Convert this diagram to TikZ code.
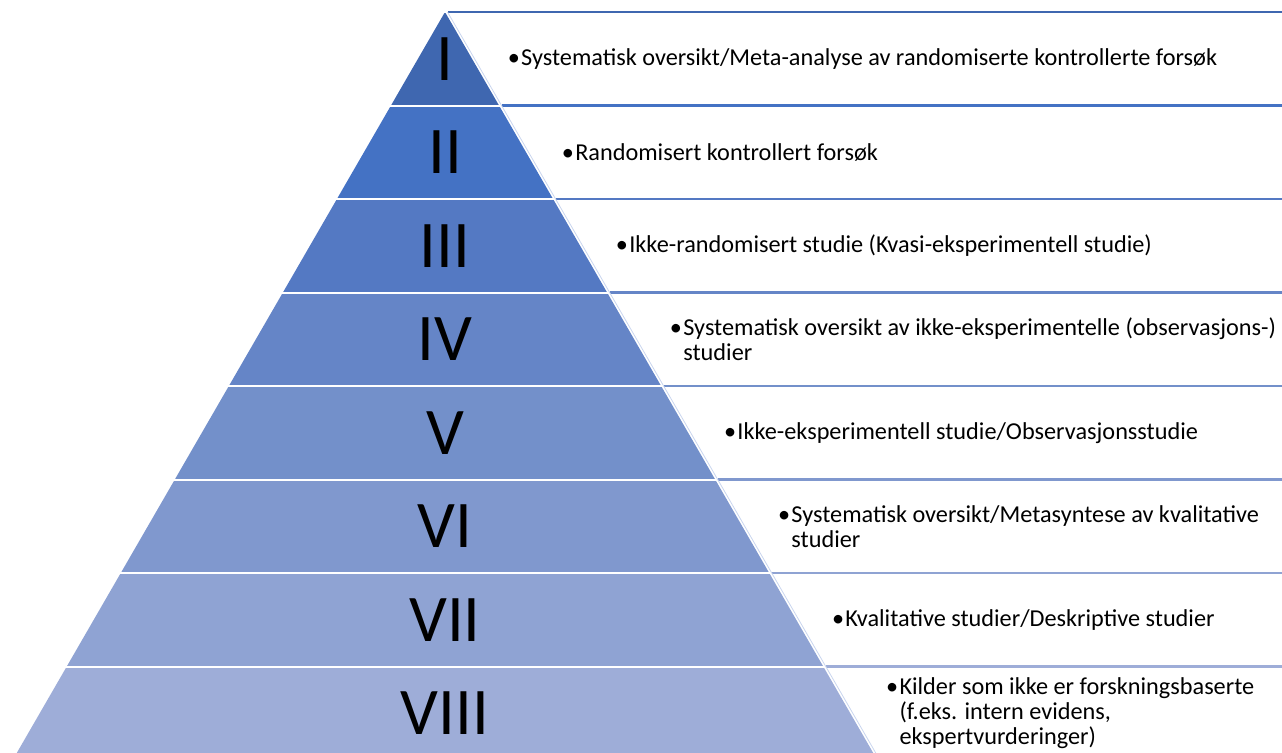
\documentclass[tikz,border=0pt]{standalone}
\usepackage{fontspec}
\setmainfont{Carlito}
\usetikzlibrary{positioning,calc}
\definecolor{lvlI}{HTML}{3F67B0}
\definecolor{lvlII}{HTML}{4472C4}
\definecolor{lvlIII}{HTML}{5479C3}
\definecolor{lvlIV}{HTML}{6585C7}
\definecolor{lvlV}{HTML}{7390CA}
\definecolor{lvlVI}{HTML}{8098CE}
\definecolor{lvlVII}{HTML}{8FA3D3}
\definecolor{lvlVIII}{HTML}{9EADD8}
\definecolor{edgeline}{HTML}{C9D5EE}
\begin{document}
\begin{tikzpicture}[x=0.75pt,y=-0.75pt,
  num/.style={inner sep=0pt,font=\fontsize{50}{50}\selectfont},
  desc/.style={anchor=west,inner sep=0pt,align=left,font=\fontsize{18.2}{18.8}\selectfont},
  rule/.style={line width=1.8pt}]
\useasboundingbox (0,0) rectangle (1282,753);
\clip (0,0) rectangle (1282,753);
\coordinate (apex) at (445,12);
\coordinate (bl) at (12.7,760);
\coordinate (br) at (877.3,760);
% layers, numerals and text boxes
\foreach \k/\n/\txt in {1/I/{Systematisk oversikt/Meta-analyse av randomiserte kontrollerte forsøk},
  2/II/{Randomisert kontrollert forsøk},
  3/III/{Ikke-randomisert studie (Kvasi-eksperimentell studie)},
  4/IV/{Systematisk oversikt av ikke-eksperimentelle (observasjons-)\\studier},
  5/V/{Ikke-eksperimentell studie/Observasjonsstudie},
  6/VI/{Systematisk oversikt/Metasyntese av kvalitative\\studier},
  7/VII/{Kvalitative studier/Deskriptive studier},
  8/VIII/{Kilder som ikke er forskningsbaserte\\(f.eks. intern evidens,\\ekspertvurderinger)}}{
  \pgfmathsetmacro\yt{12+(\k-1)*93.5}
  \pgfmathsetmacro\yb{12+\k*93.5}
  \pgfmathsetmacro\ym{\yt+46.75}
  \pgfmathsetmacro\f{(\yt-12)/748}
  \begin{scope}
    \clip (0,\yt+1.5) rectangle (1282,\yb-1.5);
    \fill[lvl\n] (apex) -- (bl) -- (br) -- cycle;
  \end{scope}
  \draw[rule,lvl\n] ($(apex)!\f!(br)+(3,0)$) -- (1282,\yt);
  \node[num] (n\k) at (445,\ym) {\n};
  \node[desc] (t\k) at ($(apex)!\f!(br)+(76,46.75)$) {\llap{•\hspace{1pt}}\txt};
}
\draw[edgeline,line width=0.6pt] ($(apex)+(2.5,0)$) -- ($(br)+(2.5,0)$);
\end{tikzpicture}
\end{document}
